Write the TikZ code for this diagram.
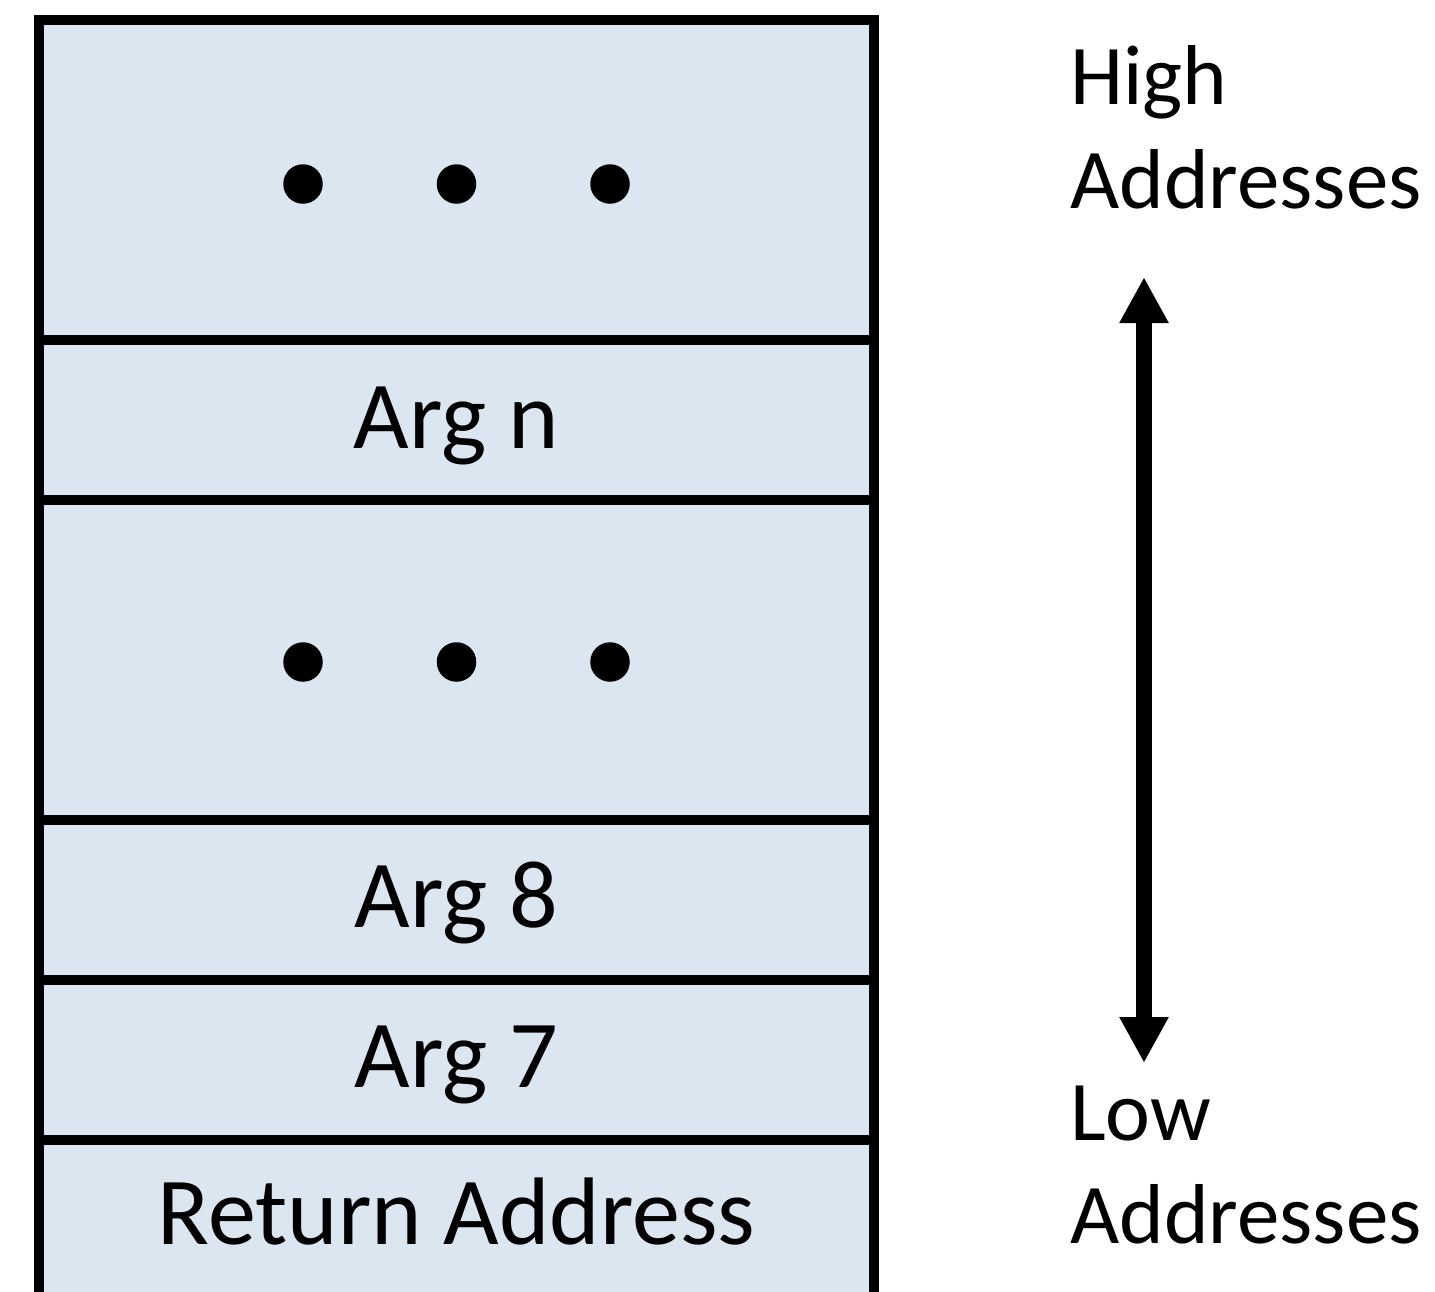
\documentclass[tikz,border=0pt]{standalone}
\usepackage{fontspec}
\setmainfont{Carlito}
\usetikzlibrary{arrows.meta}
\definecolor{cellfill}{RGB}{220,230,241}
\begin{document}
\begin{tikzpicture}[x=1pt,y=-1pt,
  frame/.style={line width=10.5pt,line join=miter},
  celltext/.style={font=\fontsize{96}{115}\selectfont,anchor=base,inner sep=0pt},
  sidetext/.style={font=\fontsize{85}{104}\selectfont,anchor=base west,inner sep=0pt},
  dotmark/.style={circle,fill=black,minimum size=39.5pt,inner sep=0pt},
  bigtip/.tip={Triangle[length=46pt,width=46pt]}]
\useasboundingbox (0,0) rectangle (1435,1291);
\clip (0,0) rectangle (1435,1291);
% stack
\fill[cellfill] (39,20) rectangle (874,1310);
\foreach \y in {340,500,820,980,1140} \draw[frame] (39,\y) -- (874,\y);
\draw[frame] (39,1310) -- (39,20) -- (874,20) -- (874,1310);
% dots
\node[dotmark] (d1) at (303,184) {};
\node[dotmark] (d2) at (456.5,184) {};
\node[dotmark] (d3) at (610,184) {};
\node[dotmark] (d4) at (303,662) {};
\node[dotmark] (d5) at (456.5,662) {};
\node[dotmark] (d6) at (610,662) {};
% cell texts
\node[celltext] (argn) at (456.5,448) {Arg n};
\node[celltext] (arg8) at (456.5,927) {Arg 8};
\node[celltext] (arg7) at (456.5,1087) {Arg 7};
\node[celltext] (ret) at (456.5,1244) {Return Address};
% side labels
\node[sidetext] (high) at (1070,104) {High};
\node[sidetext] (highaddr) at (1070,208) {Addresses};
\node[sidetext] (low) at (1070,1140) {Low};
\node[sidetext] (lowaddr) at (1070,1243) {Addresses};
% arrow
\coordinate (up) at (1144,277);
\coordinate (dn) at (1144,1063);
\draw[line width=15.7pt,bigtip-bigtip] (up) -- (dn);
\end{tikzpicture}
\end{document}
